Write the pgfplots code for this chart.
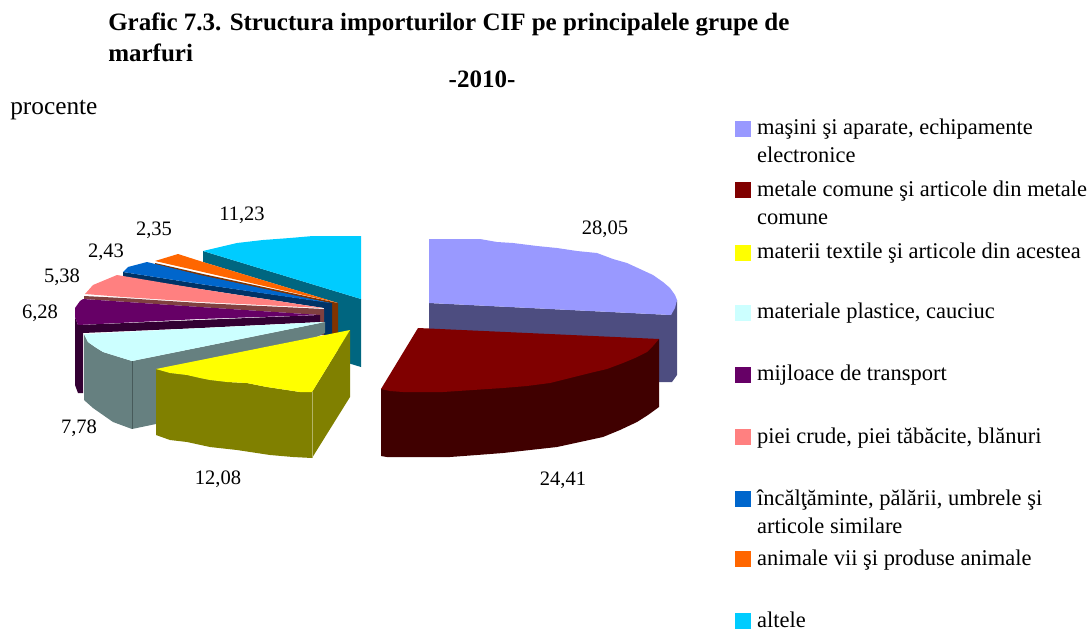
\documentclass[border=0pt]{standalone}
\usepackage{fontspec}
\setmainfont{Liberation Serif}
\usepackage{pgfplots}
\pgfplotsset{compat=1.18}
\definecolor{c1}{HTML}{9999FF}\definecolor{c1s}{HTML}{4D4D80}
\definecolor{c2}{HTML}{800000}\definecolor{c2s}{HTML}{400000}
\definecolor{c3}{HTML}{FFFF00}\definecolor{c3s}{HTML}{808000}
\definecolor{c4}{HTML}{CCFFFF}\definecolor{c4s}{HTML}{668080}
\definecolor{c5}{HTML}{660066}\definecolor{c5s}{HTML}{330033}
\definecolor{c6}{HTML}{FF8080}\definecolor{c6s}{HTML}{804040}
\definecolor{c7}{HTML}{0066CC}\definecolor{c7s}{HTML}{003366}
\definecolor{c8}{HTML}{FF6600}\definecolor{c8s}{HTML}{803300}
\definecolor{c9}{HTML}{00CCFF}\definecolor{c9s}{HTML}{006680}
\newcommand{\poly}[2]{\addplot[fill=#1,draw=none,forget plot] coordinates {#2} --cycle;}
\newcommand{\swatch}[2]{\addplot[fill=#1,draw=none,forget plot] coordinates {(735,#2) (751,#2) (751,\the\numexpr#2+16\relax) (735,\the\numexpr#2+16\relax)} --cycle;}
\newcommand{\leg}[2]{\node[anchor=base west,inner sep=0pt,font=\fs] at (axis cs:756.8,#1) {#2};}
\newcommand{\val}[3]{\node[anchor=base,inner sep=0pt,font=\fv] at (axis cs:#1,#2) {#3};}
\newcommand{\fs}{\fontsize{16.85}{20}\selectfont}
\newcommand{\fv}{\fontsize{15.4}{18}\selectfont}
\newcommand{\ft}{\fontsize{18.75}{22}\selectfont\bfseries}
\begin{document}
\begin{tikzpicture}
\begin{axis}[width=819pt,height=471.75pt,scale only axis,xmin=0,xmax=1092,ymin=0,ymax=629,y dir=reverse,axis lines=none,clip=false]
% altele
\poly{c9s}{(203,251)(361,299)(361,367)(338,360)(338,303)(203,262)}
\poly{c9}{(203,251)(220,247)(237,243)(263,240)(290,238)(313,236)(361,236)(361,299)}
% animale
\poly{c8s}{(155,263)(203,274)(338,303)(338,340)(330,340)(330,303)(203,278)(155,266)}
\poly{c8}{(155,261)(178,254)(203,262)(338,303)(203,272)}
% incaltaminte
\poly{c7s}{(123,272)(200,284)(332,303)(332,340)(324,340)(324,308)(200,289)(123,277)}
\poly{c7}{(123,272)(128,267)(147,262)(200,275)(330,303)(200,284)}
% piei
\poly{c6s}{(84,296)(123,298)(200,303)(324,309)(324,335)(320,335)(320,315)(200,307)(84,299)}
\poly{c6}{(85,294)(93,285)(117,275)(123,276)(200,289)(323,308)(200,302)(123,297)}
% transport
\poly{c5s}{(75,317)(78,325)(320,315)(320,322)(200,328)(83,333)(83,393)(78,393)(75,385)}
\poly{c5}{(83,299)(200,307)(320,315)(200,319)(78,325)(75,317)(75,308)(80,301)}
% plastice
\poly{c4s}{(84,334)(88,342)(95,347)(103,352)(132,361)(325,322)(325,333)(300,345)(156,424)(132,429)(113,422)(103,415)(93,408)(84,400)}
\poly{c4}{(84,334)(325,322)(132,361)(103,352)(95,347)(88,342)}
\addplot[color=c4s!70!black,line width=0.5pt,forget plot] coordinates {(132,361)(132,429)};
% textile
\poly{c3s}{(156,369)(170,373)(187,375)(200,378)(210,380)(227,382)(247,383)(267,387)(287,390)(300,392)(312,392)(350,330)(350,397)(312,458)(293,457)(270,455)(237,450)(210,447)(187,442)(170,440)(156,435)}
\poly{c3}{(156,369)(350,330)(312,392)(300,392)(287,390)(267,387)(247,383)(227,382)(210,380)(200,378)(187,375)(170,373)}
\addplot[color=c3s!60!white,line width=0.5pt,forget plot] coordinates {(312,392)(312,458)};
% masini
\poly{c1s}{(429,303)(671,315)(677,300)(677,375)(672,382)(429,382)}
\poly{c1}{(429,239)(480,239)(497,242)(513,243)(537,246)(557,248)(577,251)(597,253)(613,259)(627,263)(640,269)(653,275)(663,282)(670,288)(675,295)(677,300)(675,308)(671,315)(429,303)}
% metale
\poly{c2s}{(381,389)(659,339)(659,407)(648,415)(637,422)(620,430)(603,437)(580,442)(557,447)(530,450)(503,453)(477,455)(450,457)(387,457)(381,456)}
\poly{c2}{(418,328)(659,339)(653,346)(647,352)(635,358)(623,363)(607,369)(590,373)(570,378)(550,383)(527,386)(503,388)(473,390)(443,392)(423,392)(403,392)(390,391)(381,389)}
% legend swatches
\swatch{c1}{121}\swatch{c2}{182}\swatch{c3}{245}\swatch{c4}{305}\swatch{c5}{367}\swatch{c6}{429}\swatch{c7}{491}\swatch{c8}{551}\swatch{c9}{613}
\path (axis cs:0,0) -- (axis cs:1092,629);
% texts
\node[anchor=base west,inner sep=0pt,font=\ft] at (axis cs:108,30) {Grafic 7.3. Structura importurilor CIF pe principalele grupe de};
\node[anchor=base west,inner sep=0pt,font=\ft] at (axis cs:108,61) {marfuri};
\node[anchor=base,inner sep=0pt,font=\ft] at (axis cs:482,87) {-2010-};
\node[anchor=base west,inner sep=0pt,font=\fontsize{19}{22}\selectfont] at (axis cs:10,114) {procente};
\leg{134}{maşini şi aparate, echipamente}
\leg{162}{electronice}
\leg{196}{metale comune şi articole din metale}
\leg{224}{comune}
\leg{258}{materii textile şi articole din acestea}
\leg{318}{materiale plastice, cauciuc}
\leg{380}{mijloace de transport}
\leg{443}{piei crude, piei tăbăcite, blănuri}
\leg{505}{încălţăminte, pălării, umbrele şi}
\leg{533}{articole similare}
\leg{565}{animale vii şi produse animale}
\leg{627}{altele}
\val{605}{234}{28,05}
\val{563}{485}{24,41}
\val{218}{484}{12,08}
\val{79}{433}{7,78}
\val{40}{318}{6,28}
\val{62}{282}{5,38}
\val{106}{257}{2,43}
\val{154}{235}{2,35}
\val{242}{220}{11,23}
\end{axis}
\end{tikzpicture}
\end{document}
